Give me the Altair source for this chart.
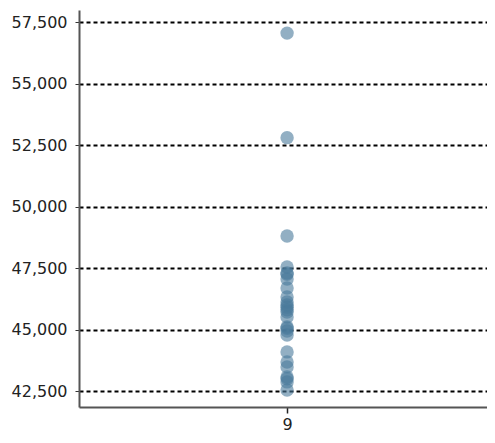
import altair as alt
import pandas as pd

categories = ["9"] * 26
values = [57050, 52800, 48800, 47540, 47300, 47250, 47050, 46690, 46320,
          46120, 46000, 45910, 45800, 45710, 45510, 45100, 45050, 44940,
          44780, 44090, 43680, 43480, 43070, 43000, 42870, 42540]
y_ticks = [42500, 45000, 47500, 50000, 52500, 55000, 57500]

df = pd.DataFrame({"cat": categories, "val": values})

chart = alt.Chart(df).mark_circle(size=180, opacity=0.6, color="#4a7a9b").encode(
    x=alt.X("cat:N", title=None,
            scale=alt.Scale(type="point", align=0.51, padding=0.5),
            axis=alt.Axis(labelAngle=0, labelFontSize=16, labelColor="#222",
                          labelFont="DejaVu Sans", domainColor="#555",
                          domainWidth=2, tickColor="#222", tickWidth=1.5,
                          tickSize=6, labelPadding=3, grid=False)),
    y=alt.Y("val:Q", title=None,
            scale=alt.Scale(domain=[41850, 57990], nice=False, zero=False),
            axis=alt.Axis(values=y_ticks, format=",.0f", labelFontSize=16,
                          labelColor="#222", labelFont="DejaVu Sans",
                          domainColor="#555", domainWidth=2, ticks=True,
                          tickSize=4, tickColor="#333", labelPadding=8,
                          grid=True, gridColor="#000", gridDash=[4, 3],
                          gridWidth=1.8)),
).properties(
    width=408, height=397,
    autosize=alt.AutoSizeParams(type="none"),
    padding={"left": 71, "top": 2, "right": 0, "bottom": 28},
).configure_view(stroke=None)

chart.save("out.html", embed_options={"renderer": "svg", "actions": False})
